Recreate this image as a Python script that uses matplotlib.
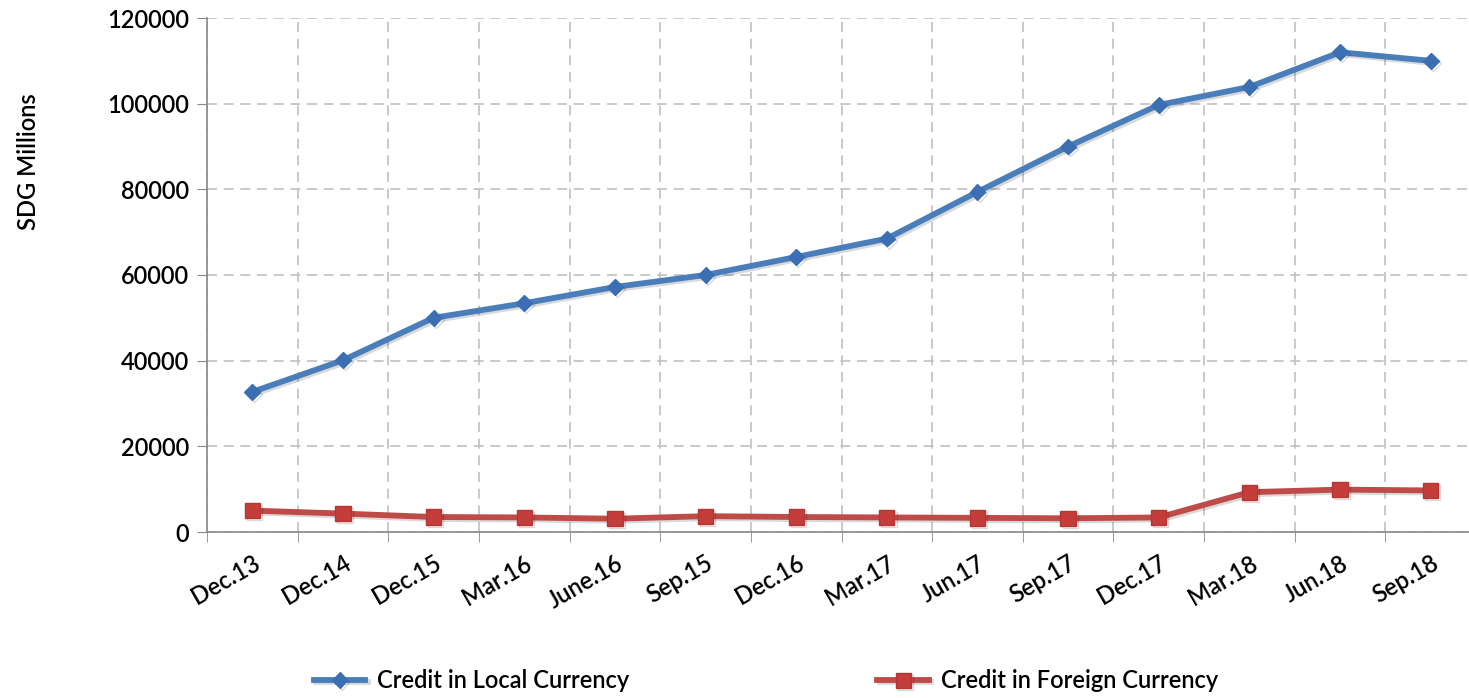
import matplotlib
matplotlib.use('Agg')
import matplotlib.pyplot as plt
import matplotlib.patheffects as pe
import numpy as np

# 数据
periods = ['Dec.13', 'Dec.14', 'Dec.15', 'Mar.16', 'June.16', 'Sep.15', 'Dec.16',
           'Mar.17', 'Jun.17', 'Sep.17', 'Dec.17', 'Mar.18', 'Jun.18', 'Sep.18']
local_ccy = [32700, 40100, 50000, 53400, 57200, 60000, 64200,
             68500, 79400, 90000, 99700, 103900, 112000, 110000]
foreign_ccy = [5000, 4300, 3500, 3400, 3100, 3700, 3500,
               3400, 3300, 3200, 3400, 9300, 9900, 9700]

plt.rcParams['font.family'] = ['Lato', 'DejaVu Sans']
plt.rcParams['font.weight'] = 'semibold'

fig = plt.figure(figsize=(14.69, 6.98), dpi=100)
ax = fig.add_axes([207 / 1469, 1 - 532 / 698, (1476 - 207) / 1469, (532 - 18) / 698])

x = np.arange(len(periods))
shadow = [pe.SimpleLineShadow(offset=(1.5, -1.5), alpha=0.15), pe.Normal()]

ax.plot(x, local_ccy, color='#4a7ebb', linewidth=4.2, marker='D', markersize=8,
        markerfacecolor='#3c6eb4', markeredgecolor='#3c6eb4',
        label='Credit in Local Currency', path_effects=shadow, zorder=3)
ax.plot(x, foreign_ccy, color='#be4b48', linewidth=4.2, marker='s', markersize=11,
        markerfacecolor='#c43d3a', markeredgecolor='#b53633',
        label='Credit in Foreign Currency', path_effects=shadow, zorder=3)

ax.set_xlim(-0.5, len(periods) - 0.5)
ax.set_ylim(0, 120000)
ax.set_yticks(np.arange(0, 120001, 20000))
ax.set_xticks(x)
ax.set_xticklabels(periods, rotation=30, ha='right', rotation_mode='anchor', fontsize=17)
ax.set_xticks(np.arange(-0.5, len(periods), 1), minor=True)

ax.tick_params(axis='x', which='major', length=0, pad=14)
ax.tick_params(axis='x', which='minor', length=7, color='#888888', direction='out')
ax.tick_params(axis='y', labelsize=17, length=7, color='#888888', pad=6)

ax.grid(True, axis='y', which='major', color='#c0c0c0', linestyle=(0, (6, 4)), linewidth=1.2)
ax.grid(True, axis='x', which='minor', color='#c0c0c0', linestyle=(0, (6, 4)), linewidth=1.2)
ax.set_axisbelow(True)

for s in ['top', 'right']:
    ax.spines[s].set_visible(False)
for s in ['left', 'bottom']:
    ax.spines[s].set_color('#888888')
    ax.spines[s].set_linewidth(1.2)

fig.text(28 / 1469, 1 - 162 / 698, 'SDG Millions', rotation=90, fontsize=17,
         ha='center', va='center')

fig.legend(loc='center', bbox_to_anchor=(766 / 1469, 1 - 681 / 698), ncol=2,
           frameon=False, fontsize=17, handlelength=2.2, columnspacing=10.5,
           handletextpad=0.5)

plt.savefig('out.png', dpi=100)
